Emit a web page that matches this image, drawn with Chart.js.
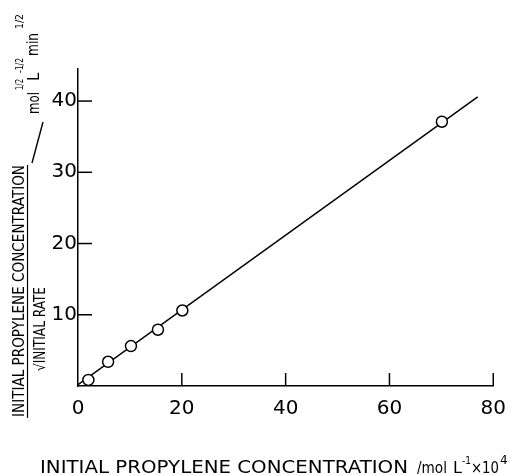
<!DOCTYPE html>
<html>
<head>
<meta charset="utf-8">
<script src="https://cdn.jsdelivr.net/npm/chart.js@4.4.0/dist/chart.umd.min.js"></script>
<style>
  body { margin: 0; background: #fff; }
  #wrap { width: 517px; height: 475px; position: relative; }
</style>
</head>
<body>
<div id="wrap"><canvas id="myChart"></canvas></div>
<script>
// measured points
const concentration = [2, 5.8, 10.2, 15.4, 20.1, 70.1];
const ratio = [0.85, 3.4, 5.6, 7.9, 10.6, 37.1];
// fitted straight line (two end points)
const fitX = [0, 77];
const fitY = [0.2, 40.6];
const xTicks = [0, 20, 40, 60, 80];
const yTicks = [0, 10, 20, 30, 40];

const FONT = "DejaVu Sans";

// draw text rotated -90deg, starting at (px, py) on the baseline, squeezed to len
function rotText(ctx, text, px, py, size, len) {
  ctx.save();
  ctx.translate(px, py);
  ctx.rotate(-Math.PI / 2);
  ctx.font = size + "px " + FONT;
  ctx.textBaseline = "alphabetic";
  ctx.textAlign = "left";
  const w = ctx.measureText(text).width;
  if (len) ctx.scale(len / w, 1);
  ctx.fillText(text, 0, 0);
  ctx.restore();
}

function flatText(ctx, text, x, y, size, len) {
  ctx.save();
  ctx.translate(x, y);
  ctx.font = size + "px " + FONT;
  ctx.textBaseline = "alphabetic";
  ctx.textAlign = "left";
  const w = ctx.measureText(text).width;
  if (len) ctx.scale(len / w, 1);
  ctx.fillText(text, 0, 0);
  ctx.restore();
}

const decor = {
  id: "decor",
  afterDraw(chart) {
    const ctx = chart.ctx;
    const xs = chart.scales.x, ys = chart.scales.y;
    ctx.save();
    ctx.strokeStyle = "#000";
    ctx.fillStyle = "#000";
    ctx.lineWidth = 1.5;
    // inward tick marks
    xs.ticks.forEach(t => {
      if (t.value === 0) return;
      const p = xs.getPixelForValue(t.value);
      ctx.beginPath();
      ctx.moveTo(p, ys.bottom);
      ctx.lineTo(p, ys.bottom - 13);
      ctx.stroke();
    });
    ys.ticks.forEach(t => {
      if (t.value === 0) return;
      const p = ys.getPixelForValue(t.value);
      ctx.beginPath();
      ctx.moveTo(xs.left, p);
      ctx.lineTo(xs.left + 14, p);
      ctx.stroke();
    });

    // x axis title
    flatText(ctx, "INITIAL PROPYLENE CONCENTRATION", 40, 473, 17, 368);
    flatText(ctx, "/mol", 417, 473, 16, 30);
    flatText(ctx, "L", 453, 473, 16);
    flatText(ctx, "-1", 462, 464, 11, 9);
    flatText(ctx, "\u00d710", 471, 473, 16, 28);
    flatText(ctx, "4", 500, 464, 12);

    // y axis title: fraction
    rotText(ctx, "INITIAL PROPYLENE CONCENTRATION", 24, 417, 15, 252);
    ctx.lineWidth = 1.2;
    ctx.beginPath();
    ctx.moveTo(27.5, 418);
    ctx.lineTo(27.5, 165);
    ctx.stroke();
    rotText(ctx, "\u221aINITIAL RATE", 45, 371, 15, 84);

    // units
    ctx.lineWidth = 1.4;
    ctx.beginPath();
    ctx.moveTo(32, 163);
    ctx.lineTo(43, 122);
    ctx.stroke();
    rotText(ctx, "mol", 39, 114, 15, 22);
    rotText(ctx, "1/2", 23, 90, 11, 11);
    rotText(ctx, "L", 39, 81, 15);
    rotText(ctx, "-1/2", 23, 73, 11, 15);
    rotText(ctx, "min", 38, 56, 15, 23);
    rotText(ctx, "1/2", 23, 29, 11, 15);
    ctx.restore();
  }
};

const ctx = document.getElementById("myChart");

new Chart(ctx, {
  type: "scatter",
  data: {
    datasets: [
      {
        label: "points",
        data: concentration.map((x, i) => ({ x: x, y: ratio[i] })),
        pointRadius: 5.5,
        pointBackgroundColor: "#fff",
        pointBorderColor: "#000",
        pointBorderWidth: 1.5,
        showLine: false,
        order: 0,
      },
      {
        label: "fit",
        data: fitX.map((x, i) => ({ x: x, y: fitY[i] })),
        showLine: true,
        borderColor: "#000",
        borderWidth: 1.5,
        pointRadius: 0,
        order: 1,
      },
    ],
  },
  options: {
    responsive: true,
    maintainAspectRatio: false,
    animation: false,
    layout: { padding: { top: 69, right: 23, left: 0, bottom: 0 } },
    plugins: {
      legend: { display: false },
      tooltip: { enabled: false },
    },
    scales: {
      x: {
        type: "linear",
        min: 0,
        max: 80,
        afterFit: (s) => { s.height = 89; },
        afterBuildTicks: (s) => { s.ticks = xTicks.map(v => ({ value: v })); },
        grid: { display: true, drawOnChartArea: false, drawTicks: false },
        border: { display: true, color: "#000", width: 1.5 },
        ticks: {
          color: "#000",
          padding: 11,
          font: { family: FONT, size: 20 },
        },
      },
      y: {
        type: "linear",
        min: 0,
        max: 44.5,
        afterFit: (s) => { s.width = 78; },
        afterBuildTicks: (s) => { s.ticks = yTicks.map(v => ({ value: v })); },
        grid: { display: true, drawOnChartArea: false, drawTicks: false },
        border: { display: true, color: "#000", width: 1.5 },
        ticks: {
          color: "#000",
          padding: 1,
          font: { family: FONT, size: 20 },
          callback: (v) => (v === 0 ? "" : v),
        },
      },
    },
  },
  plugins: [decor],
});
</script>
</body>
</html>
